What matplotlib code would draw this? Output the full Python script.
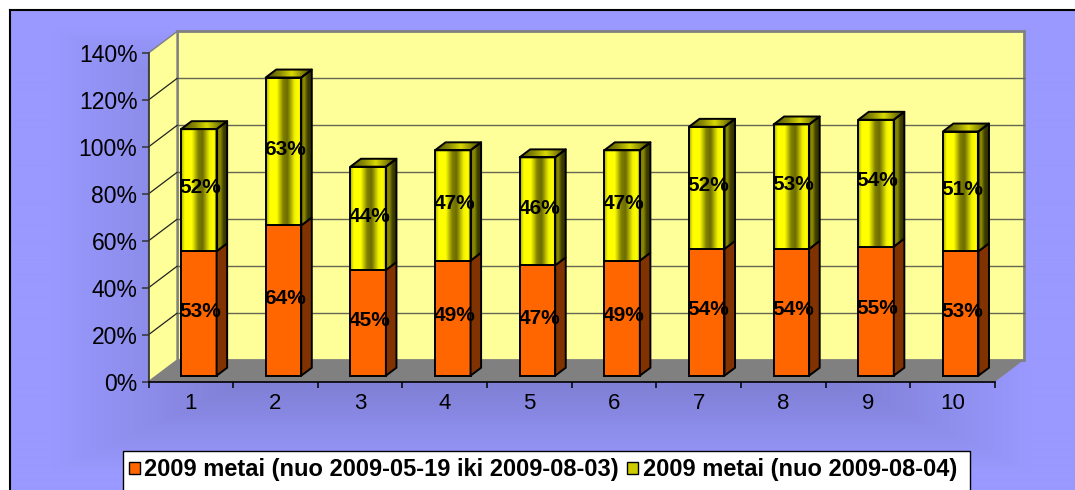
"""Stacked 3D-style column chart of two 2009 periods, drawn with plain matplotlib."""

import matplotlib.pyplot as plt
import numpy as np
from matplotlib.patches import Polygon, Rectangle

categories = ["1", "2", "3", "4", "5", "6", "7", "8", "9", "10"]
early_share = [53, 64, 45, 49, 47, 49, 54, 54, 55, 53]
late_share = [52, 63, 44, 47, 46, 47, 52, 53, 54, 51]
y_ticks = [0, 20, 40, 60, 80, 100, 120, 140]
series_labels = [
    "2009 metai (nuo 2009-05-19 iki 2009-08-03)",
    "2009 metai (nuo 2009-08-04)",
]

W, H = 1075, 490
ORANGE = "#FF6600"
ORANGE_SIDE = "#803300"
WALL = "#FFFF99"
FLOOR = "#808080"

# depth of the box in data units, and where the columns sit inside it
DX, DY = 0.337, 9.16
BAR_W, BAR_FRONT, BAR_DEPTH = 0.42, 0.28, 0.37

plt.rcParams["font.family"] = ["Liberation Sans", "DejaVu Sans"]
fig = plt.figure(figsize=(W / 100, H / 100), dpi=100)

# --- chart area background: rectangular gradient, darker toward the middle
bg = fig.add_axes([0, 0, 1, 1])
bg.set_xlim(0, W)
bg.set_ylim(H, 0)
bg.axis("off")
xx, yy = np.meshgrid(np.arange(W) + 0.5, np.arange(H) + 0.5)
t = np.maximum(np.abs(xx - 542) / 532, np.abs(yy - 250) / 240)
s = np.clip((0.92 - t) / 0.35, 0, 1)[..., None]
light = np.array([153, 153, 255]) / 255
dark = np.array([128, 128, 214]) / 255
img = light * (1 - s) + dark * s
img[:11, :] = 1
img[:, :10] = 1
bg.imshow(img, extent=(0, W, H, 0), aspect="auto", interpolation="bilinear")
bg.plot([9.5, W], [10.5, 10.5], color="black", lw=1.5)
bg.plot([9.5, 9.5], [10.5, H], color="black", lw=1.5)

# legend box along the bottom edge
bg.add_patch(Rectangle((123, 451), 847, 45, fc="white", ec="black", lw=1.0))
bg.add_patch(Rectangle((129, 462), 11, 12, fc=ORANGE, ec="black", lw=1.0))
bg.add_patch(Rectangle((627, 462), 11, 12, fc="#CCCC00", ec="black", lw=1.0))
bg.text(144, 469, series_labels[0], fontsize=17, fontweight="bold", va="center")
bg.text(643, 469, series_labels[1], fontsize=17, fontweight="bold", va="center")

# --- main axes: front plane of the 3D box
ax = fig.add_axes([148.5 / W, 1 - 381.7 / H, (995 - 148.5) / W, (381.7 - 53) / H])
ax.set_autoscale_on(False)
ax.set_xlim(0, len(categories))
ax.set_ylim(0, y_ticks[-1])
ax.patch.set_visible(False)
for side in ("top", "right"):
    ax.spines[side].set_visible(False)
ax.spines["left"].set_color("#333333")
ax.spines["bottom"].set_color("black")
ax.spines["left"].set_linewidth(1.2)
ax.spines["bottom"].set_linewidth(1.2)

n = len(categories)
top = y_ticks[-1]

# walls and floor
ax.add_patch(Rectangle((DX, DY), n, top, fc=WALL, ec="#808080", lw=2, zorder=0.5, clip_on=False))
ax.add_patch(Polygon([(0, 0), (DX, DY), (DX, top + DY), (0, top)],
                     fc=WALL, ec="#808080", lw=1, zorder=0.6, clip_on=False))
ax.add_patch(Polygon([(0, 0), (n, 0), (n + DX, DY), (DX, DY)],
                     fc=FLOOR, ec="none", zorder=0.7, clip_on=False))
for v in y_ticks[1:-1]:
    ax.plot([DX, n + DX], [v + DY, v + DY], color="#666655", lw=1.0, zorder=0.8, clip_on=False)
    ax.plot([0, DX], [v, v + DY], color="#222222", lw=0.9, zorder=0.8, clip_on=False)

ax.set_yticks(y_ticks)
ax.set_yticklabels([f"{v}%" for v in y_ticks], fontsize=16.5)
ax.tick_params(axis="y", length=5, width=1.1, pad=3, color="#333333")
ax.set_xticks(range(n + 1))
ax.set_xticklabels([])
ax.set_xticks([i + 0.5 for i in range(n)], minor=True)
ax.set_xticklabels(categories, minor=True, fontsize=16)
ax.tick_params(axis="x", which="major", length=4, width=1.1)
ax.tick_params(axis="x", which="minor", length=0, pad=8)


def shade_strip(profile_u, profile_b):
    u = np.linspace(0, 1, 64)
    b = np.interp(u, profile_u, profile_b)
    return np.stack([b, b, np.zeros_like(b)], axis=-1)[None, :, :]


front_grad = shade_strip([0, 0.1, 0.3, 0.48, 0.6, 0.8, 0.92, 1],
                         [0.68, 1.0, 1.0, 0.5, 0.42, 0.95, 1.0, 0.78])
side_grad = shade_strip([0, 0.3, 0.6, 1], [0.45, 0.55, 0.25, 0.18])
top_grad = shade_strip([0, 0.3, 0.55, 0.8, 1], [0.3, 0.55, 0.85, 0.5, 0.25])


def draw_face(poly, grad, extent, zorder):
    patch = Polygon(poly, fc="none", ec="black", lw=1.4, zorder=zorder + 0.1, joinstyle="round")
    ax.add_patch(patch)
    if grad is not None:
        im = ax.imshow(grad, extent=extent, aspect="auto", zorder=zorder,
                       interpolation="bilinear")
        im.set_clip_path(patch)


ox, oy = BAR_FRONT * DX, BAR_FRONT * DY
dx, dy = BAR_DEPTH * DX, BAR_DEPTH * DY

for i in range(n):
    x0 = i + 0.5 - BAR_W / 2 + ox
    x1 = x0 + BAR_W
    segments = [(0, early_share[i], "early"), (early_share[i], late_share[i], "late")]
    for base, height, kind in segments:
        yb, yt = base + oy, base + height + oy
        front = [(x0, yb), (x1, yb), (x1, yt), (x0, yt)]
        side = [(x1, yb), (x1 + dx, yb + dy), (x1 + dx, yt + dy), (x1, yt)]
        lid = [(x0, yt), (x1, yt), (x1 + dx, yt + dy), (x0 + dx, yt + dy)]
        z = 2 + i * 0.01
        if kind == "early":
            ax.add_patch(Polygon(front, fc=ORANGE, ec="black", lw=1.4, zorder=z))
            ax.add_patch(Polygon(side, fc=ORANGE_SIDE, ec="black", lw=1.4, zorder=z))
        else:
            draw_face(front, front_grad, (x0, x1, yb, yt), z)
            draw_face(side, side_grad, (x1, x1 + dx, yb, yt + dy), z)
            draw_face(lid, top_grad, (x0, x1 + dx, yt, yt + dy), z)
        ax.text((x0 + x1) / 2 + 0.02, (yb + yt) / 2 + 1, f"{height}%",
                ha="center", va="center", fontsize=15, fontweight="bold", zorder=5)

fig.savefig("out.png", dpi=100)
